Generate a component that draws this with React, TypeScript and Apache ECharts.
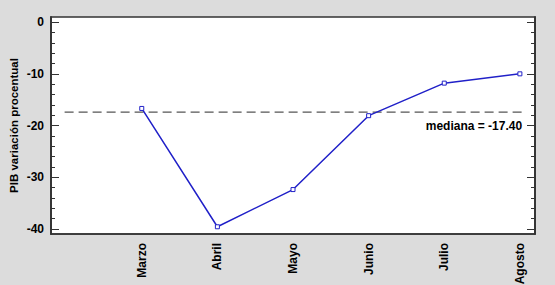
import React, { useEffect, useRef } from "react";
import * as echarts from "echarts";

const months = ["Marzo", "Abril", "Mayo", "Junio", "Julio", "Agosto"];
const monthPos = [3, 4, 5, 6, 7, 8];
const pibValues = [-16.7, -39.6, -32.4, -18.1, -11.8, -10.0];
const medianValue = -17.4;
const medianSpan = [1.98, 8.03];
const yMajorTicks = [0, -10, -20, -30, -40];
const yMinorTicks = [-2, -4, -6, -8, -12, -14, -16, -18, -22, -24, -26, -28, -32, -34, -36, -38];

const FONT = "'Liberation Sans', Arial, sans-serif";

export default function App() {
  const ref = useRef<HTMLDivElement>(null);
  useEffect(() => {
    if (!ref.current) return;
    const chart = echarts.init(ref.current, null, { renderer: "svg" });
    const yBase = {
      type: "value",
      min: -41,
      max: 1,
      splitLine: { show: false },
      axisLine: { show: true, lineStyle: { color: "#333", width: 1.5 } },
    };
    chart.setOption({
      animation: false,
      backgroundColor: "#dcdcdc",
      grid: {
        left: 51, right: 20, top: 17, bottom: 51,
        outerBoundsMode: "none",
        containLabel: false,
        show: true, backgroundColor: "#ffffff", borderColor: "#333", borderWidth: 1.5,
      },
      xAxis: {
        type: "value",
        min: 1.8,
        max: 8.2,
        splitLine: { show: false },
        axisLine: { show: true, onZero: false, lineStyle: { color: "#333", width: 1.5 } },
        axisTick: { show: false },
        axisLabel: {
          customValues: monthPos,
          formatter: (v: number) => months[monthPos.indexOf(v)] ?? "",
          rotate: 90,
          margin: 9,
          fontFamily: FONT,
          fontWeight: "bold",
          fontSize: 12,
          color: "#000",
        },
      },
      yAxis: [
        {
          ...yBase,
          position: "left",
          name: "PIB variación procentual",
          nameLocation: "middle",
          nameGap: 31,
          nameMoveOverlap: false,
          nameTextStyle: { fontFamily: FONT, fontWeight: "bold", fontSize: 11.5, color: "#000" },
          axisTick: { show: true, inside: true, length: 8, customValues: yMajorTicks, lineStyle: { color: "#333" } },
          axisLabel: { customValues: yMajorTicks, margin: 7, fontFamily: FONT, fontWeight: "bold", fontSize: 12, color: "#000" },
        },
        {
          ...yBase,
          position: "left",
          offset: 0,
          axisTick: { show: true, inside: true, length: 4, customValues: yMinorTicks, lineStyle: { color: "#333" } },
          axisLabel: { show: false },
        },
        {
          ...yBase,
          position: "right",
          offset: 0,
          axisTick: { show: true, inside: true, length: 8, customValues: yMajorTicks, lineStyle: { color: "#333" } },
          axisLabel: { show: false },
        },
        {
          ...yBase,
          position: "right",
          offset: 0,
          axisTick: { show: true, inside: true, length: 4, customValues: yMinorTicks, lineStyle: { color: "#333" } },
          axisLabel: { show: false },
        },
      ],
      series: [
        {
          type: "line",
          data: medianSpan.map((x) => [x, medianValue]),
          symbol: "circle",
          symbolSize: 1,
          showSymbol: true,
          itemStyle: { color: "transparent" },
          lineStyle: { color: "#555", width: 1.2, type: [9, 5] },
          label: {
            show: true,
            formatter: (p: any) => (p.dataIndex === medianSpan.length - 1 ? "mediana = -17.40" : ""),
            position: "bottom",
            distance: 7,
            align: "right",
            offset: [-8, 0],
            fontFamily: FONT,
            fontWeight: "bold",
            fontSize: 12,
            color: "#000",
          },
          labelLayout: { hideOverlap: false },
          silent: true,
          z: 1,
        },
        {
          type: "line",
          data: monthPos.map((x, i) => [x, pibValues[i]]),
          symbol: "rect",
          symbolSize: 4,
          itemStyle: { color: "#ffffff", borderColor: "#2020c8", borderWidth: 1 },
          lineStyle: { color: "#2020c8", width: 1.5 },
          z: 3,
        },
      ],
    });
    return () => chart.dispose();
  }, []);
  return <div ref={ref} style={{ width: 555, height: 285, position: "fixed", left: 0, top: 0 }} />;
}
